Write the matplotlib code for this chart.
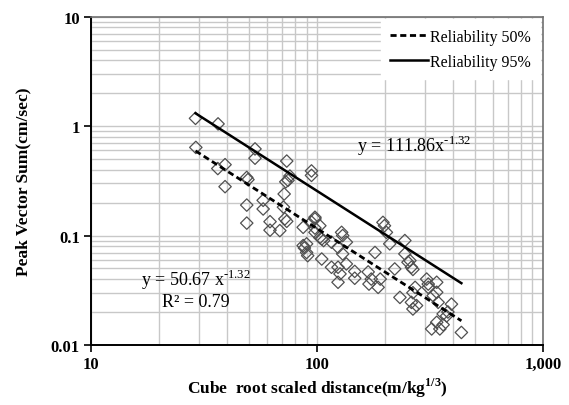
import matplotlib.pyplot as plt
import matplotlib.ticker as mticker
import numpy as np

plt.rcParams['font.family'] = ['Liberation Serif', 'DejaVu Serif']
plt.rcParams['axes.unicode_minus'] = False

# scaled distance (m/kg^1/3) and peak vector sum (cm/sec)
dist = [29.0, 36.5, 29.1, 39.2, 36.4, 39.2, 48.9, 49.5, 48.9, 48.9,
        53.2, 53.2, 73.5, 75.9, 72.8, 74.5, 71.6, 57.8, 57.8, 62.0,
        62.0, 68.5, 72.1, 73.5, 71.1, 94.6, 94.6, 86.9, 98.0, 98.0,
        98.0, 94.6, 103, 98.0, 107, 103, 105, 105, 86.9, 88.0,
        90.0, 91.0, 116, 124, 126.5, 124, 135, 147, 147, 128.6,
        130, 135, 124, 130, 116, 180.7, 168.6, 174, 186.6, 190.6,
        196, 199, 203, 210, 221, 233, 245, 245, 253, 262,
        266, 262, 266, 276, 272, 266, 306, 311, 311, 339,
        339, 327, 344, 394, 362, 339, 322, 350, 362, 375,
        436, 380, 258, 170, 90.0]
pvs = [1.18, 1.05, 0.64, 0.445, 0.41, 0.28, 0.34, 0.325, 0.19, 0.13,
       0.62, 0.51, 0.48, 0.35, 0.31, 0.32, 0.24, 0.21, 0.175, 0.134,
       0.112, 0.111, 0.142, 0.135, 0.182, 0.39, 0.355, 0.119, 0.147, 0.142,
       0.117, 0.133, 0.123, 0.107, 0.09, 0.096, 0.093, 0.061, 0.081, 0.077,
       0.070, 0.0655, 0.0513, 0.0513, 0.0446, 0.0374, 0.055, 0.0407, 0.047, 0.107,
       0.100, 0.087, 0.078, 0.068, 0.087, 0.070, 0.0465, 0.040, 0.0336, 0.040,
       0.132, 0.123, 0.107, 0.084, 0.0495, 0.0272, 0.090, 0.068, 0.057, 0.0513,
       0.049, 0.0245, 0.0213, 0.0229, 0.0336, 0.030, 0.040, 0.036, 0.0336, 0.0374,
       0.0303, 0.0282, 0.0245, 0.0236, 0.0192, 0.0161, 0.014, 0.014, 0.0153, 0.0184,
       0.013, 0.020, 0.059, 0.036, 0.084]

# regression lines
k50, k95, expo = 50.67, 111.86, -1.32
x_fit = np.array([29.0, 436.0])

fig = plt.figure(figsize=(5.69, 4.06), dpi=100)
ax = fig.add_axes([0.16, 0.148, 0.794, 0.808])

ax.set_xscale('log')
ax.set_yscale('log')
ax.set_xlim(10, 1000)
ax.set_ylim(0.01, 10)

ax.grid(True, which='both', color='#c8c8c8', linewidth=1.0)
ax.set_axisbelow(True)

ax.scatter(dist, pvs, marker='D', s=40, facecolors='none',
           edgecolors='#505050', linewidths=0.9, zorder=3)
ax.plot(x_fit, k50 * x_fit ** expo, color='black', lw=2, ls=(0, (2.2, 1.3)),
        label='Reliability 50%', zorder=4)
ax.plot(x_fit, k95 * x_fit ** expo, color='black', lw=1.8,
        label='Reliability 95%', zorder=4)

ax.text(150, 0.68, 'y = 111.86x$^{\\mathregular{\u20101.32}}$', fontsize=13, ha='left', va='center')
ax.text(29.2, 0.040, 'y = 50.67 x$^{\\mathregular{\u20101.32}}$', fontsize=13, ha='center', va='center')
ax.text(29.2, 0.0247, 'R² = 0.79', fontsize=13, ha='center', va='center')

leg = ax.legend(loc='upper right', frameon=True, fontsize=11.5, handlelength=2.4,
                handletextpad=0.1, borderaxespad=0.35, labelspacing=0.55)
leg.get_frame().set_edgecolor('white')
leg.get_frame().set_facecolor('white')
leg.get_frame().set_alpha(1)
leg.get_frame().set_boxstyle('square', pad=0.2)

ax.xaxis.set_major_formatter(mticker.FuncFormatter(lambda v, p: '{:,.0f}'.format(v)))
ax.yaxis.set_major_formatter(mticker.FuncFormatter(lambda v, p: '{:g}'.format(v)))
ax.yaxis.set_minor_formatter(mticker.NullFormatter())
ax.xaxis.set_minor_formatter(mticker.NullFormatter())
ax.tick_params(which='major', direction='out', length=5, width=1.2, labelsize=12, pad=3)
ax.tick_params(which='minor', length=0)
for lab in ax.get_xticklabels() + ax.get_yticklabels():
    lab.set_fontweight('bold')

for s in ['left', 'bottom']:
    ax.spines[s].set_color('black')
    ax.spines[s].set_linewidth(1.4)
for s in ['top', 'right']:
    ax.spines[s].set_color('#707070')
    ax.spines[s].set_linewidth(1.2)

ax.set_ylabel('Peak Vector Sum(cm/sec)', fontsize=12.5, fontweight='bold', labelpad=14)
ax.set_xlabel('Cube  root scaled distance(m/kg$^{\\mathregular{1/3}}$)', fontsize=12.5,
              fontweight='bold', labelpad=3)

fig.savefig('out.png', dpi=100)
